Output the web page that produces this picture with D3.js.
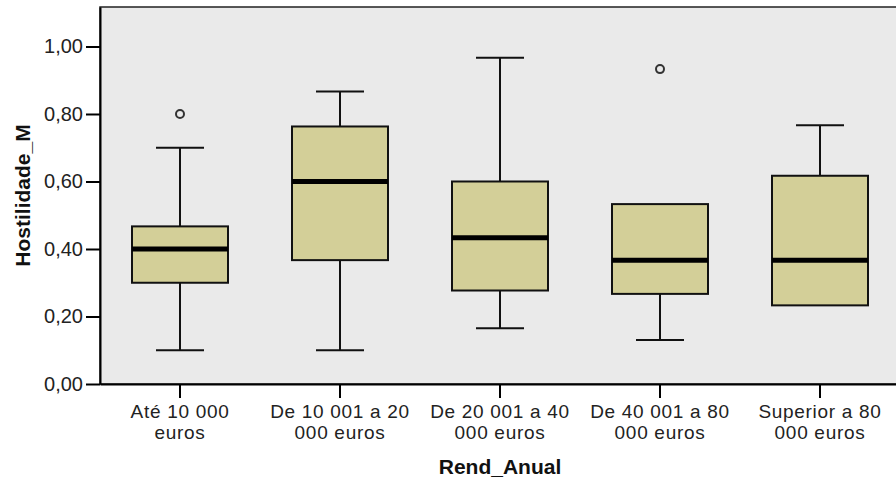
<!DOCTYPE html>
<html>
<head>
<meta charset="utf-8">
<script src="https://cdn.jsdelivr.net/npm/d3@7"></script>
<style>
body{margin:0;background:#fff;}
text{font-family:Arial,"Liberation Sans",sans-serif;}
</style>
</head>
<body>
<svg id="chart" width="896" height="484"></svg>
<script>
const categories = ["Até 10 000|euros","De 10 001 a 20|000 euros","De 20 001 a 40|000 euros","De 40 001 a 80|000 euros","Superior a 80|000 euros"];
const lowWhisker = [0.10, 0.10, 0.165, 0.13, 0.233];
const q1 = [0.30, 0.367, 0.277, 0.267, 0.233];
const median = [0.40, 0.60, 0.433, 0.367, 0.367];
const q3 = [0.467, 0.763, 0.60, 0.533, 0.617];
const highWhisker = [0.70, 0.867, 0.967, 0.533, 0.767];
const outliers = [[0.80], [], [], [0.933], []];
const yTicks = [0, 0.2, 0.4, 0.6, 0.8, 1.0];

(function () {
const svg = d3.select("#chart");
const mLeft = 100, mRight = 900, mTop = 7, mBottom = 384;
const x = d3.scaleBand().domain(categories).range([mLeft, mRight]).padding(0);
const y = d3.scaleLinear().domain([0, 1.117]).range([mBottom, mTop]);
const bw = x.bandwidth();

svg.append("rect").attr("x", mLeft).attr("y", mTop).attr("width", mRight - mLeft).attr("height", mBottom - mTop)
  .attr("fill", "#eaeaea").attr("stroke", "#222").attr("stroke-width", 1.5);

const fmt = v => d3.format(".2f")(v).replace(".", ",");
const yAxis = d3.axisLeft(y).tickValues(yTicks).tickFormat(fmt).tickSize(14).tickSizeOuter(0).tickPadding(3);
const gy = svg.append("g").attr("transform", `translate(${mLeft},0)`).call(yAxis);
gy.select(".domain").attr("stroke", "#000").attr("stroke-width", 2);
gy.selectAll(".tick line").attr("stroke", "#000").attr("stroke-width", 2);
gy.selectAll(".tick text").attr("font-size", 20).attr("fill", "#222").attr("font-family", "Arial, 'Liberation Sans', sans-serif");

const xAxis = d3.axisBottom(x).tickSize(14).tickSizeOuter(0).tickFormat("");
const gx = svg.append("g").attr("transform", `translate(0,${mBottom})`).call(xAxis);
gx.select(".domain").attr("stroke", "#000").attr("stroke-width", 2);
gx.selectAll(".tick line").attr("stroke", "#000").attr("stroke-width", 2);

categories.forEach((c, i) => {
  const cx = x(c) + bw / 2;
  const lines = c.split("|");
  const t = svg.append("text").attr("x", cx).attr("y", 418).attr("text-anchor", "middle")
    .attr("font-size", 19).attr("letter-spacing", 0.7).attr("fill", "#222");
  lines.forEach((l, j) => t.append("tspan").attr("x", cx).attr("dy", j === 0 ? 0 : 21).text(l));
});

const g = svg.append("g");
categories.forEach((c, i) => {
  const cx = x(c) + bw / 2;
  const bwid = bw * 0.6, cap = bw * 0.3;
  if (highWhisker[i] > q3[i]) {
    g.append("line").attr("x1", cx).attr("x2", cx).attr("y1", y(q3[i])).attr("y2", y(highWhisker[i])).attr("stroke", "#111").attr("stroke-width", 2);
    g.append("line").attr("x1", cx - cap / 2).attr("x2", cx + cap / 2).attr("y1", y(highWhisker[i])).attr("y2", y(highWhisker[i])).attr("stroke", "#111").attr("stroke-width", 2);
  }
  if (lowWhisker[i] < q1[i]) {
    g.append("line").attr("x1", cx).attr("x2", cx).attr("y1", y(q1[i])).attr("y2", y(lowWhisker[i])).attr("stroke", "#111").attr("stroke-width", 2);
    g.append("line").attr("x1", cx - cap / 2).attr("x2", cx + cap / 2).attr("y1", y(lowWhisker[i])).attr("y2", y(lowWhisker[i])).attr("stroke", "#111").attr("stroke-width", 2);
  }
  g.append("rect").attr("x", cx - bwid / 2).attr("y", y(q3[i])).attr("width", bwid).attr("height", y(q1[i]) - y(q3[i]))
    .attr("fill", "#d3cf98").attr("stroke", "#111").attr("stroke-width", 2);
  g.append("line").attr("x1", cx - bwid / 2).attr("x2", cx + bwid / 2).attr("y1", y(median[i])).attr("y2", y(median[i]))
    .attr("stroke", "#000").attr("stroke-width", 5);
  outliers[i].forEach(o => {
    g.append("circle").attr("cx", cx).attr("cy", y(o)).attr("r", 4).attr("fill", "none").attr("stroke", "#333").attr("stroke-width", 2);
  });
});

svg.append("text").attr("transform", `translate(30,${(mTop + mBottom) / 2}) rotate(-90)`).attr("text-anchor", "middle")
  .attr("font-size", 21).attr("font-weight", "bold").attr("fill", "#111").text("Hostilidade_M");
svg.append("text").attr("x", 500).attr("y", 474).attr("text-anchor", "middle")
  .attr("font-size", 21).attr("font-weight", "bold").attr("fill", "#111").text("Rend_Anual");
})();
</script>
</body>
</html>
